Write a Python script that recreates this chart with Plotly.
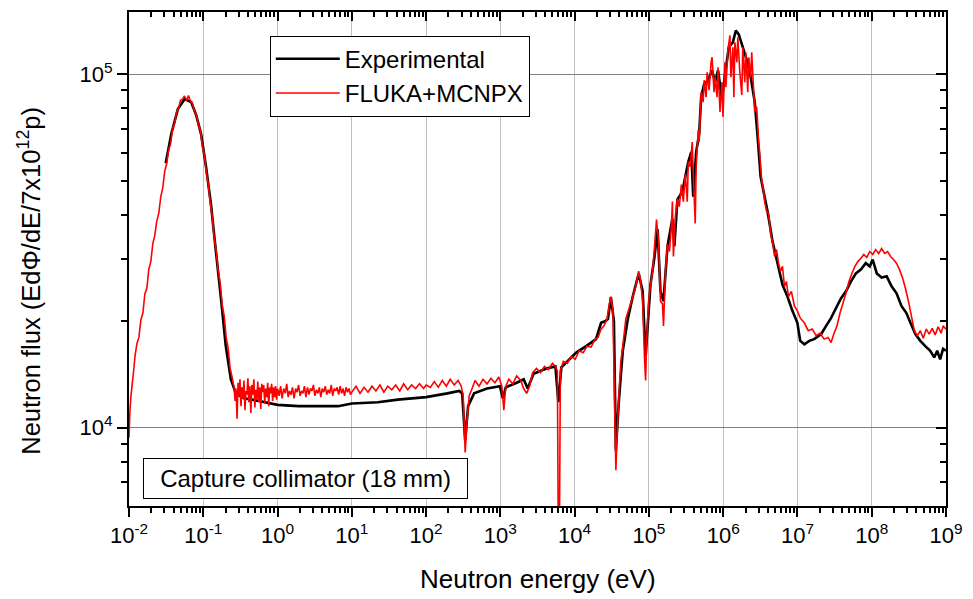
import plotly.graph_objects as go

# ---------------- data ----------------
# Experimental spectrum: energy (eV) and flux
exp_energy = [
    0.0312, 0.0372, 0.0455, 0.0559, 0.0687, 0.0801, 0.0935, 0.109, 0.127, 0.148,
    0.173, 0.201, 0.235, 0.274, 0.354, 0.561, 1.00, 1.92, 3.55, 6.56,
    10.0, 22.4, 41.5, 100, 193, 279, 306, 336, 368, 443,
    661, 985, 1080, 1180, 1660, 2060, 2330, 2800, 4180, 5510,
    6040, 6620, 10500, 14300, 19400, 22700, 25600, 28100, 30800, 33800,
    35900, 39400, 44500, 52000, 60600, 72900, 82400, 90300, 105000, 119000,
    131000, 143000, 157000, 178000, 207000, 220000, 242000, 282000, 309000, 339000,
    372000, 395000, 433000, 475000, 505000, 554000, 627000, 708000, 777000, 852000,
    963000, 1.06e6, 1.19e6, 1.35e6, 1.48e6, 1.62e6, 1.84e6, 2.08e6, 2.35e6, 2.66e6,
    2.91e6, 3.19e6, 3.61e6, 3.96e6, 4.62e6, 5.39e6, 6.28e6, 7.33e6, 8.55e6, 9.97e6,
    1.09e7, 1.24e7, 1.44e7, 1.68e7, 2.09e7, 2.43e7, 2.83e7, 3.31e7, 3.85e7, 4.50e7,
    5.24e7, 6.11e7, 7.13e7, 8.31e7, 9.40e7, 1.03e8, 1.17e8, 1.36e8, 1.59e8, 1.85e8,
    2.16e8, 2.51e8, 2.93e8, 3.32e8, 3.87e8, 4.51e8, 5.26e8, 6.13e8, 6.94e8, 7.61e8,
    8.34e8, 9.14e8, 1.0e9,
]
exp_flux = [
    56000, 68000, 79700, 85000, 83400, 76700, 67700, 54700, 42800, 31500,
    23200, 17000, 13700, 12500, 12100, 11900, 11600, 11500, 11500, 11500,
    11700, 11800, 12000, 12200, 12500, 12700, 12500, 9200, 11500, 12500,
    12900, 13100, 12100, 13000, 13400, 13700, 12900, 14200, 14700, 14900,
    11800, 14800, 16300, 17000, 17800, 19800, 20000, 20300, 23400, 20000,
    8620, 11900, 16500, 20300, 23500, 27300, 24300, 15900, 25400, 30500,
    36400, 24300, 22800, 32600, 39000, 32600, 44200, 46500, 51300, 56500,
    60300, 45000, 60300, 67800, 86100, 93700, 96200, 102600, 94900, 102600,
    85000, 100000, 119200, 123100, 133000, 129600, 119200, 109500, 98100, 83400,
    66500, 51300, 45000, 40900, 33600, 29200, 25400, 23500, 21400, 19800,
    17600, 17200, 17600, 17800, 18400, 19400, 20400, 21800, 23200, 24300,
    25900, 27300, 28000, 29200, 28600, 29900, 27300, 26600, 26800, 25100,
    24000, 22100, 21100, 19800, 18400, 17600, 17000, 16500, 15800, 16500,
    15600, 16700, 16500,
]

# FLUKA+MCNPX simulation, by energy segment
sim_energy_thermal = [
    0.0100, 0.01031, 0.01063, 0.01097, 0.01148, 0.01203, 0.01279, 0.01360, 0.01446, 0.01538,
    0.01635, 0.01739, 0.01849, 0.01966, 0.02091, 0.02223, 0.02365, 0.02515, 0.02674, 0.02844,
    0.03024, 0.03216, 0.03420, 0.03636, 0.03867, 0.04112, 0.04373, 0.04650, 0.04945, 0.05259,
    0.05592, 0.05947, 0.06324, 0.06725, 0.07151, 0.07605, 0.08087, 0.08600, 0.09146, 0.09726,
    0.1034, 0.1100, 0.1170, 0.1244, 0.1323, 0.1407, 0.1496, 0.1591, 0.1692, 0.1799,
    0.1913, 0.2034, 0.2163, 0.2301, 0.2446, 0.2602,
]
sim_flux_thermal = [
    9370, 11200, 12300, 13100, 14300, 15900, 17300, 18000, 20200, 21100,
    23900, 24800, 28100, 29500, 33100, 35000, 38400, 40400, 44900, 47600,
    53100, 55800, 61200, 63600, 70400, 72500, 78200, 80000, 84500, 85000,
    86800, 84200, 87000, 83800, 82700, 78600, 76500, 71800, 69400, 62500,
    59200, 52400, 48900, 43000, 39500, 34300, 31600, 27700, 25500, 22200,
    20700, 18000, 16800, 14700, 13900, 12900,
]
sim_energy_epi = [
    0.268, 0.276, 0.285, 0.294, 0.303, 0.312, 0.322, 0.332, 0.342, 0.353,
    0.364, 0.375, 0.387, 0.399, 0.411, 0.424, 0.437, 0.451, 0.465, 0.480,
    0.495, 0.510, 0.526, 0.542, 0.559, 0.577, 0.595, 0.613, 0.632, 0.652,
    0.672, 0.693, 0.715, 0.737, 0.760, 0.784, 0.808, 0.833, 0.859, 0.886,
    0.914, 0.942, 0.972, 1.00,
    1.05, 1.10, 1.15, 1.21, 1.27, 1.33, 1.39, 1.45, 1.52, 1.59,
    1.67, 1.75, 1.83, 1.92, 2.01, 2.10, 2.20, 2.30, 2.41, 2.53,
    2.65, 2.77, 2.90, 3.04, 3.18, 3.33, 3.49, 3.65, 3.82, 4.00,
    4.19, 4.39, 4.60, 4.81, 5.04, 5.28, 5.53, 5.79, 6.06, 6.35,
    6.65, 6.96, 7.29, 7.63, 7.99, 8.37, 8.76, 9.17, 9.60, 10.0,
    11.4, 12.9, 14.6, 16.5, 18.7, 21.1, 23.9, 27.0, 30.5, 34.5,
    39.0, 44.2, 49.9, 56.5, 63.9, 72.2, 81.7, 92.4, 100,
    114, 129, 146, 165, 187, 211, 239, 270, 297, 316,
    336, 357, 380, 416, 456, 516, 584, 660, 747, 845, 955,
]
sim_flux_epi = [
    11900, 12900, 10600, 13400, 12300, 13700, 11500, 13000, 12100, 13600,
    11200, 12700, 12400, 13800, 11800, 13100, 11000, 13200, 12400, 13700,
    11400, 12800, 12000, 13500, 11800, 13000, 11300, 13300, 12600, 13200,
    11700, 12900, 12200, 13400, 11500, 13000, 12500, 13300, 11900, 13000,
    12200, 13100, 12000, 12900,
    12300, 13100, 12100, 12900, 12500, 13300, 12200, 12700, 12400, 13000,
    12100, 12900, 12600, 13200, 12300, 12700, 12500, 13100, 12200, 13000,
    12400, 12900, 12700, 13200, 12300, 12800, 12500, 13000, 12200, 12900,
    12600, 13100, 12400, 12800, 12500, 13200, 12300, 12900, 12700, 13000,
    12400, 13100, 12500, 12900, 12300, 13000, 12600, 12900, 12400, 12600,
    13100, 12500, 13000, 12600, 13100, 12700, 13200, 12600, 13100, 12800,
    13200, 12700, 13300, 12800, 13200, 12900, 13300, 12900, 13200,
    13000, 13500, 13000, 13600, 13100, 13700, 13200, 13600, 13100, 12300,
    8500, 10500, 12300, 12900, 13600, 13100, 13700, 13300, 13800, 13400, 13900,
]
sim_energy_kev = [
    1047, 1113, 1184, 1299, 1468, 1661, 1877, 2059, 2258, 2476,
    2716, 3070, 3472, 3926, 4440, 5020, 5505, 5856, 6039, 6228,
    6421, 7041, 7962, 9006, 10180, 11510, 13020, 14730, 16650, 18830,
    20650, 22650, 24840, 27240, 28960, 30800, 32750, 34830, 35920, 37040,
    39390, 41880, 44540, 48850, 53570, 60570, 66430, 72850, 77460, 82360,
    87580, 90320, 93130, 99030,
]
sim_flux_kev = [
    13100, 11200, 13100, 13700, 13300, 14000, 13600, 12900, 12500, 13100,
    14300, 14700, 14300, 14900, 14600, 15200, 14900, 14500, 4500, 4500,
    14500, 15400, 15200, 15900, 15600, 16500, 16300, 17000, 16900, 17800,
    18000, 19000, 19400, 20300, 22100, 23500, 21400, 10500, 7570, 9190,
    12300, 15400, 17000, 20300, 21600, 23500, 25100, 27700, 25900, 22800,
    15400, 13600, 17600, 22800,
]
sim_energy_fast = [
    1.053e5, 1.120e5, 1.191e5, 1.266e5, 1.347e5, 1.432e5, 1.523e5, 1.571e5, 1.670e5, 1.776e5,
    1.889e5, 2.009e5, 2.072e5, 2.136e5, 2.272e5, 2.415e5, 2.569e5, 2.732e5, 2.905e5, 3.090e5,
    3.285e5, 3.388e5, 3.603e5, 3.831e5, 3.951e5, 4.201e5, 4.332e5, 4.607e5, 4.751e5, 5.052e5,
    5.373e5, 5.540e5, 5.891e5, 6.075e5, 6.460e5, 6.870e5, 7.084e5, 7.534e5, 7.770e5, 8.260e5,
    8.518e5, 9.060e5, 9.634e5, 9.934e5, 1.056e6, 1.089e6, 1.158e6, 1.232e6, 1.270e6, 1.351e6,
    1.393e6, 1.437e6, 1.528e6, 1.575e6, 1.675e6, 1.781e6, 1.837e6, 1.954e6, 2.015e6, 2.142e6,
    2.210e6, 2.350e6, 2.423e6, 2.499e6, 2.657e6, 2.826e6, 3.005e6, 3.099e6, 3.295e6, 3.504e6,
    3.614e6, 3.843e6, 4.087e6, 4.346e6, 4.621e6, 4.914e6, 5.226e6, 5.557e6, 5.909e6, 6.284e6,
    6.683e6, 7.106e6, 7.557e6, 8.287e6, 9.087e6, 9.965e6, 1.093e7, 1.236e7, 1.398e7, 1.580e7,
    1.787e7, 2.021e7, 2.285e7, 2.584e7, 2.834e7, 3.108e7, 3.408e7, 3.738e7, 4.099e7, 4.495e7,
    4.929e7, 5.406e7, 5.928e7, 6.501e7, 7.129e7, 7.817e7, 8.573e7, 9.400e7, 1.031e8, 1.130e8,
    1.240e8, 1.359e8, 1.491e8, 1.635e8, 1.793e8, 1.966e8, 2.156e8, 2.364e8, 2.593e8, 2.843e8,
    3.118e8, 3.419e8, 3.749e8, 4.111e8, 4.508e8, 4.944e8, 5.421e8, 5.945e8, 6.519e8, 7.149e8,
    7.840e8, 8.597e8, 9.145e8, 1.0e9,
]
sim_flux_fast = [
    25400, 27700, 32600, 38800, 33600, 22800, 22400, 19400, 27700, 33000,
    31500, 37100, 43600, 30500, 39600, 44500, 42200, 48700, 43600, 52300,
    43600, 56500, 54700, 64300, 53000, 37800, 54700, 69500, 64300, 89000,
    83400, 96200, 86100, 101300, 90100, 108100, 111700, 89000, 98100, 86100,
    104600, 78200, 94900, 75700, 108100, 91900, 116900, 128800, 98100, 119200,
    86100, 123100, 108100, 127200, 101300, 87300, 119200, 94900, 115300, 89000,
    111700, 98100, 115300, 101300, 78200, 80700, 64300, 60300, 50300, 46500,
    43600, 40900, 40400, 35400, 33600, 30500, 31900, 29200, 27700, 28600,
    25100, 25900, 23500, 24300, 22100, 21400, 20400, 19800, 18800, 19000,
    18200, 18500, 17800, 18000, 17400, 18500, 19400, 21100, 22500, 24000,
    25900, 27300, 28600, 29500, 30100, 30900, 30300, 31500, 30900, 31900,
    31100, 32100, 31100, 31500, 30500, 29900, 29200, 28000, 26600, 24800,
    22800, 20700, 18800, 18200, 18800, 17900, 19000, 18400, 19100, 18300,
    19300, 18500, 19400, 19000,
]

sim_energy = sim_energy_thermal + sim_energy_epi + sim_energy_kev + sim_energy_fast
sim_flux = sim_flux_thermal + sim_flux_epi + sim_flux_kev + sim_flux_fast
assert len(exp_energy) == len(exp_flux)
assert len(sim_energy) == len(sim_flux)

series_names = ["Experimental", "FLUKA+MCNPX"]
x_tick_exponents = list(range(-2, 10))
y_tick_exponents = [4, 5]
x_title = "Neutron energy (eV)"
y_title = "Neutron flux (EdΦ/dE/7x10<sup>12</sup>p)"
note_text = "Capture collimator (18 mm)"

# ---------------- figure ----------------
FONT = "Liberation Sans, Arial, sans-serif"

x_major = [10.0 ** e for e in x_tick_exponents]
x_text = [f"10<sup>{e}</sup>" for e in x_tick_exponents]
x_minor = [m * 10.0 ** e for e in x_tick_exponents[:-1] for m in range(2, 10)]
y_major = [10.0 ** e for e in y_tick_exponents]
y_text = [f"10<sup>{e}</sup>" for e in y_tick_exponents]
y_minor = [m * 10.0 ** e for e in (3, 4) for m in range(2, 10) if m * 10.0 ** e >= 6500]

fig = go.Figure()
fig.add_trace(go.Scatter(
    x=exp_energy, y=exp_flux, mode="lines", name=series_names[0],
    line=dict(color="#000000", width=2.6, simplify=False),
))
fig.add_trace(go.Scatter(
    x=sim_energy, y=sim_flux, mode="lines", name=series_names[1],
    line=dict(color="#ff0000", width=1.6, simplify=False),
))
# empty trace to carry the mirrored (inside-tick) top/right axes
fig.add_trace(go.Scatter(x=[], y=[], xaxis="x2", yaxis="y2", showlegend=False,
                         hoverinfo="skip"))

xr = [-2, 9]
yr = [3.7782, 5.1761]

common = dict(type="log", showline=True, linecolor="black", linewidth=2,
              zeroline=False)

fig.update_layout(
    width=973, height=599,
    margin=dict(l=129, r=20, t=10, b=93),
    paper_bgcolor="white", plot_bgcolor="white",
    font=dict(family=FONT, size=22, color="black"),
    showlegend=True,
    xaxis=dict(
        **common, range=xr, mirror=True,
        tickmode="array", tickvals=x_major, ticktext=x_text,
        ticks="outside", ticklen=9, tickwidth=2, tickcolor="black",
        tickfont=dict(family=FONT, size=22, color="black"),
        showgrid=True, gridcolor="#c0c0c0", gridwidth=1,
        minor=dict(tickmode="array", tickvals=x_minor, ticks="outside",
                   ticklen=5, tickwidth=1.5, tickcolor="black", showgrid=False),
    ),
    yaxis=dict(
        **common, range=yr, mirror=True,
        tickmode="array", tickvals=y_major, ticktext=y_text,
        ticks="outside", ticklen=10, tickwidth=2, tickcolor="black",
        tickfont=dict(family=FONT, size=22, color="black"),
        showgrid=True, gridcolor="#808080", gridwidth=1,
        minor=dict(tickmode="array", tickvals=y_minor, ticks="outside",
                   ticklen=6, tickwidth=1.5, tickcolor="black", showgrid=False),
    ),
    xaxis2=dict(
        type="log", range=xr, overlaying="x", side="top", anchor="y",
        showline=False, showgrid=False, zeroline=False, showticklabels=False,
        tickmode="array", tickvals=x_major,
        ticks="inside", ticklen=9, tickwidth=2, tickcolor="black",
        minor=dict(tickmode="array", tickvals=x_minor, ticks="inside",
                   ticklen=5, tickwidth=1.5, tickcolor="black", showgrid=False),
    ),
    yaxis2=dict(
        type="log", range=yr, overlaying="y", side="right", anchor="x",
        showline=False, showgrid=False, zeroline=False, showticklabels=False,
        tickmode="array", tickvals=y_major,
        ticks="inside", ticklen=10, tickwidth=2, tickcolor="black",
        minor=dict(tickmode="array", tickvals=y_minor, ticks="inside",
                   ticklen=6, tickwidth=1.5, tickcolor="black", showgrid=False),
    ),
    legend=dict(
        x=0.1723, y=0.952, xanchor="left", yanchor="top",
        bgcolor="white", bordercolor="black", borderwidth=1,
        font=dict(family=FONT, size=24, color="black"),
        tracegroupgap=0, itemwidth=64,
    ),
    annotations=[
        dict(text=note_text, xref="paper", yref="paper", x=0.2166, y=0.0554,
             xanchor="center", yanchor="middle", showarrow=False,
             width=313, height=29, align="center",
             font=dict(family=FONT, size=24, color="black"),
             bgcolor="white", bordercolor="black", borderwidth=1, borderpad=5),
        dict(text=x_title, xref="paper", yref="paper", x=0.5, y=-0.147,
             xanchor="center", yanchor="middle", showarrow=False,
             font=dict(family=FONT, size=26, color="black")),
        dict(text=y_title, xref="paper", yref="paper", x=-0.1226, y=0.4556,
             xanchor="center", yanchor="middle", showarrow=False, textangle=-90,
             font=dict(family=FONT, size=25.5, color="black")),
    ],
)

fig.write_html("out.html")
